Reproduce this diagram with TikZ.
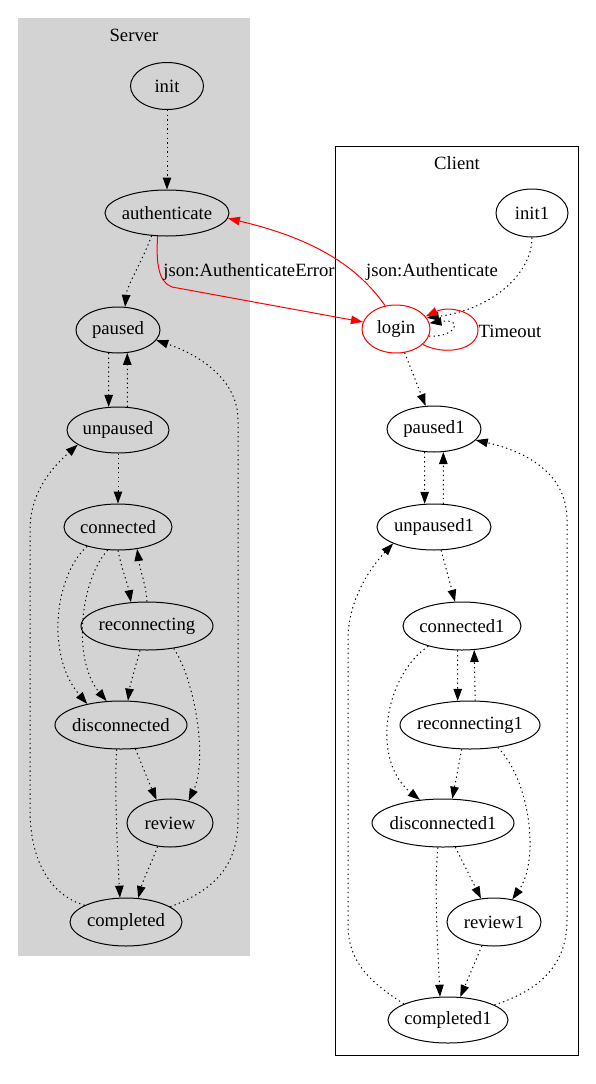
\documentclass[tikz,border=0pt]{standalone}
\usepackage{fontspec}
\setmainfont{Liberation Serif}
\usetikzlibrary{shapes.geometric,arrows.meta}
\definecolor{clustergray}{RGB}{211,211,211}
\newcommand\zw[1]{\makebox[0pt]{#1}}
\begin{document}
\begin{tikzpicture}[x=1pt,y=-1pt,
  state/.style={ellipse,draw,line width=1pt,inner sep=0pt,font=\fontsize{18.7}{22}\selectfont},
  redstate/.style={state,draw=red},
  flow/.style={line width=1pt,dash pattern=on 1.3pt off 3.3pt,-{Triangle[length=12pt,width=8.5pt]}},
  redflow/.style={line width=1pt,color=red,-{Triangle[length=12pt,width=8.5pt]}},
  lbl/.style={font=\fontsize{18.7}{22}\selectfont,inner sep=0pt}]
\useasboundingbox (0,0) rectangle (596,1084);
\fill[white] (0,0) rectangle (596,1084);
% clusters
\fill[clustergray] (18,18) rectangle (250,956);
\draw[line width=1pt] (335,146) rectangle (578,1055);
\node[lbl] (serverlabel) at (134,35) {Server};
\node[lbl] (clientlabel) at (457,163) {Client};
% server nodes
\node[state,minimum width=73pt,minimum height=47pt] (init) at (167,86) {\zw{init}};
\node[state,minimum width=124pt,minimum height=46pt] (authenticate) at (167,213) {\zw{authenticate}};
\node[state,minimum width=84pt,minimum height=46pt] (paused) at (118,330) {\zw{paused}};
\node[state,minimum width=102pt,minimum height=46pt] (unpaused) at (118,430) {\zw{unpaused}};
\node[state,minimum width=108pt,minimum height=46pt] (connected) at (118,527) {\zw{connected}};
\node[state,minimum width=132pt,minimum height=48pt] (reconnecting) at (147,626) {\zw{reconnecting}};
\node[state,minimum width=132pt,minimum height=48pt] (disconnected) at (121,725) {\zw{disconnected}};
\node[state,minimum width=86pt,minimum height=48pt] (review) at (170,823) {\zw{review}};
\node[state,minimum width=112pt,minimum height=48pt] (completed) at (126,922) {\zw{completed}};
% client nodes
\node[state,minimum width=72pt,minimum height=48pt] (init1) at (532,213) {\zw{init1}};
\node[redstate,minimum width=68pt,minimum height=48pt] (login) at (396,329) {\zw{login}};
\node[state,minimum width=94pt,minimum height=46pt] (paused1) at (434,429) {\zw{paused1}};
\node[state,minimum width=114pt,minimum height=46pt] (unpaused1) at (434,527) {\zw{unpaused1}};
\node[state,minimum width=118pt,minimum height=48pt] (connected1) at (462,626) {\zw{connected1}};
\node[state,minimum width=140pt,minimum height=48pt] (reconnecting1) at (470,725) {\zw{reconnecting1}};
\node[state,minimum width=142pt,minimum height=48pt] (disconnected1) at (443,823) {\zw{disconnected1}};
\node[state,minimum width=94pt,minimum height=48pt] (review1) at (494,922) {\zw{review1}};
\node[state,minimum width=120pt,minimum height=46pt] (completed1) at (448,1020) {\zw{completed1}};
% server edges
\draw[flow] (init) -- (authenticate);
\draw[flow] (authenticate.236) .. controls (142,262) and (127,285) .. (paused.73);
\draw[flow] (paused.248) -- (unpaused.112);
\draw[flow] (unpaused.68) -- (paused.292);
\draw[flow] (unpaused) -- (connected);
\draw[flow] (connected.270) .. controls (122,570) and (128,585) .. (reconnecting.124);
\draw[flow] (reconnecting.90) .. controls (146,585) and (140,570) .. (connected.311);
\draw[flow] (connected.212) .. controls (55,575) and (45,655) .. (disconnected.148);
\draw[flow] (connected.246) .. controls (80,580) and (72,660) .. (disconnected.121);
\draw[flow] (reconnecting.254) .. controls (136,665) and (130,685) .. (disconnected.74);
\draw[flow] (reconnecting.320) .. controls (195,680) and (208,760) .. (review.50);
\draw[flow] (disconnected.301) .. controls (142,765) and (150,785) .. (review.120);
\draw[flow] (disconnected.260) .. controls (114,790) and (118,860) .. (completed.104);
\draw[flow] (review.242) .. controls (152,862) and (143,880) .. (completed.63);
\draw[flow] (completed.158) .. controls (50,895) and (30,860) .. (30,810) -- (30,530) .. controls (30,490) and (55,465) .. (unpaused.200);
\draw[flow] (completed.19) .. controls (215,890) and (238,865) .. (238,820) -- (238,420) .. controls (238,380) and (200,355) .. (paused.-15);
% client edges
\draw[flow] (init1.270) .. controls (532,275) and (490,310) .. (login.20);
\draw[flow] (login.-12) .. controls (455,338) and (465,318) .. (login.10);
\draw[flow] (login.290) -- (paused1.110);
\draw[flow] (paused1.248) -- (unpaused1.112);
\draw[flow] (unpaused1.68) -- (paused1.292);
\draw[flow] (unpaused1.287) -- (connected1.106);
\draw[flow] (connected1.260) -- (reconnecting1.117);
\draw[flow] (reconnecting1.78) -- (connected1.297);
\draw[flow] (connected1.211) .. controls (385,675) and (370,760) .. (disconnected1.135);
\draw[flow] (reconnecting1.251) -- (disconnected1.69);
\draw[flow] (reconnecting1.321) .. controls (530,780) and (540,860) .. (review1.51);
\draw[flow] (disconnected1.297) -- (review1.119);
\draw[flow] (disconnected1.258) .. controls (434,890) and (438,950) .. (completed1.109);
\draw[flow] (review1.243) -- (completed1.62);
\draw[flow] (completed1.160) .. controls (375,985) and (348,965) .. (348,925) -- (348,640) .. controls (348,600) and (370,568) .. (unpaused1.202);
\draw[flow] (completed1.18) .. controls (540,990) and (567,965) .. (567,920) -- (567,520) .. controls (567,470) and (520,450) .. (paused1.-15);
% red edges
\draw[redflow] (login.115) .. controls (360,270) and (320,240) .. (authenticate.-5);
\draw[redflow] (authenticate.248) .. controls (156,262) and (158,282) .. (172,287) -- (login.168);
\draw[redflow] (login.-30) .. controls (445,356) and (478,350) .. (478,330) .. controls (478,312) and (450,305) .. (login.23);
\node[lbl] (lauth) at (432,272) {json:Authenticate};
\node[lbl] (lautherr) at (249,272) {json:AuthenticateError};
\node[lbl] (ltimeout) at (510,331) {Timeout};
\end{tikzpicture}
\end{document}
